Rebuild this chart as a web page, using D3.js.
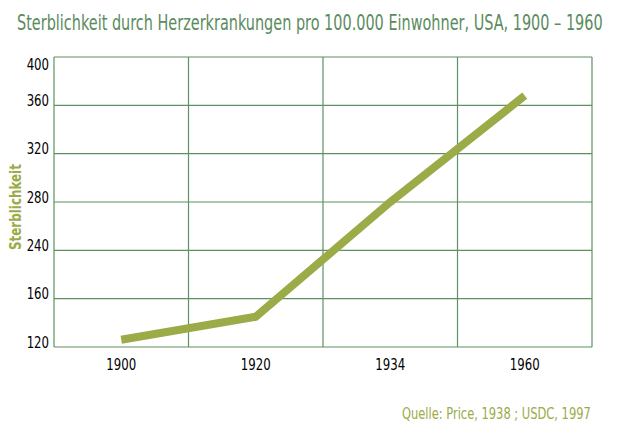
<!DOCTYPE html>
<html><head><meta charset="utf-8">
<script src="https://cdn.jsdelivr.net/npm/d3@7/dist/d3.min.js"></script>
<style>body{margin:0;background:#fff}svg{display:block}</style>
</head><body>
<svg id="c" width="620" height="435"></svg>
<script>
const categories = ["1900", "1920", "1934", "1960"];
const values = [126, 145, 280, 368];
const yTicks = [120, 160, 240, 280, 320, 360, 400];

const FONT = "'Liberation Sans Narrow','DejaVu Sans Condensed','Arial Narrow',sans-serif";
const svg = d3.select("#c");
const L = 54, R = 592, T = 57, B = 347;
const gridColor = "#5e9162", lineColor = "#9aab48", titleColor = "#5a8c5e";
const SX = 0.79; // horizontal squeeze for tick labels

const x = d3.scaleBand().domain(categories).range([L, R]);
// unevenly valued, evenly spaced ticks (as in the original)
const y = d3.scaleLinear().domain(yTicks).range(yTicks.map((d, i) => B - i * (B - T) / (yTicks.length - 1)));

// horizontal grid
svg.append("g").selectAll("line").data(yTicks).join("line")
  .attr("x1", L).attr("x2", R).attr("y1", d => y(d)).attr("y2", d => y(d))
  .attr("stroke", gridColor).attr("stroke-width", 1.2);
// vertical grid (band boundaries)
const bounds = categories.map(c => x(c)).concat([R]);
svg.append("g").selectAll("line").data(bounds).join("line")
  .attr("x1", d => d).attr("x2", d => d).attr("y1", T).attr("y2", B)
  .attr("stroke", gridColor).attr("stroke-width", 1.2);

// y tick labels (sit just above their gridline; top one kept inside)
const yAxis = d3.axisLeft(y).tickValues(yTicks).tickSize(0);
const gy = svg.append("g").attr("transform", `translate(${L},0)`).call(yAxis);
gy.select(".domain").remove();
gy.selectAll("text")
  .attr("font-family", FONT).attr("font-size", 16.5).attr("fill", "#000")
  .attr("text-anchor", "end")
  .attr("x", -5 / SX).attr("dy", 0)
  .attr("y", d => Math.max(0, T + 12 - y(d)))
  .attr("transform", `scale(${SX},1)`);

// x tick labels
const xAxis = d3.axisBottom(x).tickSize(0);
const gx = svg.append("g").attr("transform", `translate(0,${B})`).call(xAxis);
gx.select(".domain").remove();
gx.selectAll("text")
  .attr("font-family", FONT).attr("font-size", 16.5).attr("fill", "#000")
  .attr("y", 23.5).attr("dy", 0)
  .attr("transform", `scale(${SX},1)`);

// line
const line = d3.line().x((d, i) => x(categories[i]) + x.bandwidth() / 2).y(d => y(d));
svg.append("path").datum(values).attr("d", line)
  .attr("fill", "none").attr("stroke", lineColor).attr("stroke-width", 8)
  .attr("stroke-linejoin", "miter").attr("stroke-linecap", "butt");

// helper: text squeezed horizontally to a target width (condensed look)
function fitText(g, str, width, size, color, weight) {
  const t = g.append("text").attr("font-family", FONT).attr("font-size", size)
    .attr("fill", color).attr("font-weight", weight || "normal").text(str);
  const w = t.node().getComputedTextLength();
  t.attr("transform", `scale(${width / w},1)`);
  return t;
}

// title
fitText(svg.append("g").attr("transform", "translate(17,30)"),
  "Sterblichkeit durch Herzerkrankungen pro 100.000 Einwohner, USA, 1900 – 1960", 586, 20.5, titleColor);

// y axis title
fitText(svg.append("g").attr("transform", "translate(21,250) rotate(-90)"),
  "Sterblichkeit", 86, 15.5, lineColor, "bold");

// source
fitText(svg.append("g").attr("transform", "translate(402,419)"),
  "Quelle: Price, 1938 ; USDC, 1997", 189, 16, lineColor);
</script>
</body></html>
